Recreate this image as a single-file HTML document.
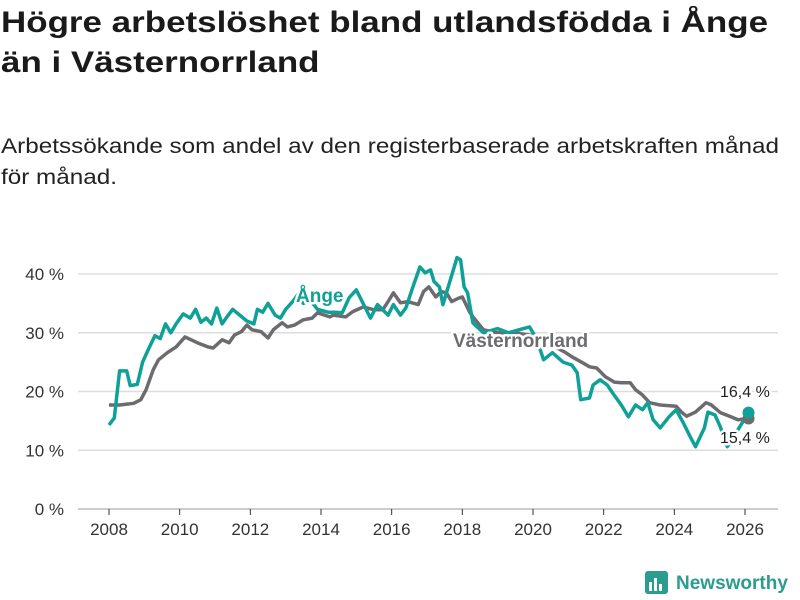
<!DOCTYPE html>
<html><head><meta charset="utf-8"><style>
body{margin:0;width:800px;height:600px;background:#fff;font-family:"Liberation Sans",sans-serif;overflow:hidden;position:relative}
#title{position:absolute;left:1px;top:3px;font-size:30px;font-weight:bold;line-height:40px;color:#1a1a1a;margin:0;transform-origin:0 0;transform:scaleX(1.165);white-space:nowrap}
#sub{position:absolute;left:1px;top:131px;font-size:21px;line-height:31px;color:#222;margin:0;transform-origin:0 0;transform:scaleX(1.155);white-space:nowrap}
svg{position:absolute;left:0;top:0}
</style></head><body>
<h1 id="title">Högre arbetslöshet bland utlandsfödda i Ånge<br>än i Västernorrland</h1>
<p id="sub">Arbetssökande som andel av den registerbaserade arbetskraften månad<br>för månad.</p>
<svg id="chart" width="800" height="600"></svg>
<script>
const yTicks=[0,10,20,30,40];
const yTickLabels=["0 %","10 %","20 %","30 %","40 %"];
const xTicks=[2008,2010,2012,2014,2016,2018,2020,2022,2024,2026];
const angeYears=[2008,2008.15,2008.3,2008.5,2008.6,2008.8,2008.95,2009.1,2009.3,2009.45,2009.6,2009.75,2009.9,2010.1,2010.3,2010.45,2010.6,2010.75,2010.9,2011.05,2011.2,2011.35,2011.5,2011.7,2011.9,2012.1,2012.2,2012.35,2012.5,2012.7,2012.85,2013,2013.2,2013.35,2013.5,2013.7,2013.9,2014.2,2014.4,2014.6,2014.8,2015,2015.4,2015.6,2015.9,2016.05,2016.25,2016.4,2016.6,2016.8,2016.95,2017.1,2017.2,2017.35,2017.45,2017.85,2017.95,2018.05,2018.15,2018.3,2018.6,2019,2019.3,2019.6,2019.9,2020.1,2020.3,2020.55,2020.85,2021.1,2021.25,2021.35,2021.6,2021.7,2021.9,2022.1,2022.25,2022.5,2022.7,2022.9,2023.1,2023.25,2023.4,2023.6,2023.85,2024.05,2024.25,2024.45,2024.6,2024.85,2024.95,2025.15,2025.3,2025.4,2025.5,2025.7,2026.1];
const angeValues=[14.3,15.5,23.5,23.5,21,21.2,25,27,29.5,29,31.5,30,31.5,33.2,32.5,34,31.8,32.5,31.5,34.2,31.5,32.8,34,33,32,31.5,34,33.5,35,33,32.5,34,35.3,36.5,35,35.5,34,33.5,33.5,33.4,36,37.3,32.5,34.8,33,34.8,33,34.2,37.8,41.2,40.2,40.7,38.7,37.8,34.8,42.8,42.4,37.8,36.8,31.7,30,30.7,30,30.5,31,29,25.4,26.6,25,24.5,23.2,18.6,18.9,21.1,22,21.1,19.8,17.7,15.7,17.7,16.9,18.1,15.2,13.8,15.7,16.9,14.7,12.3,10.6,13.8,16.5,16,14,12.3,10.6,12.5,16.4];
const vnYears=[2008,2008.3,2008.7,2008.9,2009.05,2009.25,2009.4,2009.65,2009.9,2010.15,2010.5,2010.8,2010.95,2011.2,2011.4,2011.55,2011.75,2011.9,2012.05,2012.3,2012.5,2012.65,2012.9,2013.05,2013.25,2013.5,2013.75,2013.9,2014.25,2014.35,2014.7,2014.9,2015.2,2015.5,2015.75,2015.9,2016.05,2016.25,2016.45,2016.75,2016.9,2017.05,2017.25,2017.4,2017.55,2017.7,2017.9,2018,2018.2,2018.3,2018.6,2019,2019.5,2020,2020.5,2020.9,2021.1,2021.4,2021.6,2021.8,2022.05,2022.3,2022.5,2022.75,2022.9,2023.1,2023.3,2023.6,2024.05,2024.2,2024.35,2024.6,2024.9,2025.05,2025.3,2025.6,2025.8,2026.1];
const vnValues=[17.7,17.7,18,18.6,20.3,23.7,25.4,26.6,27.6,29.3,28.3,27.6,27.4,28.8,28.3,29.6,30.2,31.3,30.5,30.2,29.1,30.5,31.7,31,31.3,32.2,32.5,33.4,32.7,33,32.7,33.6,34.4,33.9,33.9,35.3,36.8,35.1,35.3,34.8,37,37.8,36.1,37,36.8,35.3,35.9,36.1,33.6,32.7,30.5,30,30,29.5,28,26.7,25.9,24.9,24.2,24,22.5,21.6,21.5,21.5,20.3,19.4,18.1,17.7,17.5,16.5,15.8,16.5,18.1,17.7,16.4,15.7,15.2,15.4];
const NS="http://www.w3.org/2000/svg";
const svg=document.getElementById('chart');
const X0=109,X1=745,Y0=509,Y40=274;
function x(v){return X0+(v-2008)*(X1-X0)/18;}
function y(v){return Y0-v*(Y0-Y40)/40;}
function mk(t,a,txt){const e=document.createElementNS(NS,t);for(const k in a)e.setAttribute(k,a[k]);if(txt!=null)e.textContent=txt;svg.appendChild(e);return e;}
yTicks.forEach((t,i)=>{
 const g=mk('line',{x1:78,x2:778,y1:y(t),y2:y(t),stroke:t===0?'#bbb':'#ddd','stroke-width':1.5});
 
 
 const l=mk('text',{x:64,y:y(t)+6,'text-anchor':'end','font-size':17,fill:'#333','font-family':'Liberation Sans, sans-serif'},yTickLabels[i]);
 
 
});
xTicks.forEach(t=>{
 const tk=mk('line',{x1:x(t),x2:x(t),y1:Y0,y2:Y0+6,stroke:'#333','stroke-width':1});
 
 
 const l=mk('text',{x:x(t),y:Y0+26,'text-anchor':'middle','font-size':17,fill:'#333','font-family':'Liberation Sans, sans-serif'},String(t));
 
 
});
function path(xs,vs,c,name){
 const d=xs.map((v,i)=>(i?'L':'M')+x(v).toFixed(1)+','+y(vs[i]).toFixed(1)).join('');
 const p=mk('path',{d:d,fill:'none',stroke:c,'stroke-width':3.5,'stroke-linejoin':'round'});
 
 
 return p;
}
const gc='#6d6b6f',tc='#0fa197';
path(vnYears,vnValues,gc,'vasternorrland-line');
path(angeYears,angeValues,tc,'ange-line');
const lastV=vnValues[vnValues.length-1],lastA=angeValues[angeValues.length-1];
const d1=mk('circle',{cx:x(vnYears[vnYears.length-1]),cy:y(lastV),r:6,fill:gc});


const d2=mk('circle',{cx:x(angeYears[angeYears.length-1]),cy:y(lastA),r:6,fill:tc});


function lab(txt,xx,yy,c,sz,bold,name){
 const t=mk('text',{x:xx,y:yy,'font-size':sz,'font-weight':bold?'bold':'normal',fill:c,stroke:'#fff','stroke-width':5,'paint-order':'stroke','stroke-linejoin':'round','font-family':'Liberation Sans, sans-serif'},txt);
 
 
}
lab('Ånge',296,302,tc,19,true,'ange-series-label');
lab('Västernorrland',453,347,gc,19,true,'vasternorrland-series-label');
lab(lastA.toFixed(1).replace('.',',')+' %',720,397,'#222',16,false,'ange-end-value');
lab(lastV.toFixed(1).replace('.',',')+' %',720,443,'#222',16,false,'vasternorrland-end-value');
const lg=mk('rect',{x:645,y:571,width:23,height:23,rx:3,fill:'#2a9d8f'});


[[649,582,3,9],[654,578,3,13],[659,584,3,7]].forEach(b=>{mk('rect',{x:b[0],y:b[1],width:b[2],height:b[3],fill:'#fff'});});
const lt=mk('text',{x:676,y:589,'font-size':19,'font-weight':'bold',fill:'#2a9d8f','font-family':'Liberation Sans, sans-serif'},'Newsworthy');


</script>
</body></html>
